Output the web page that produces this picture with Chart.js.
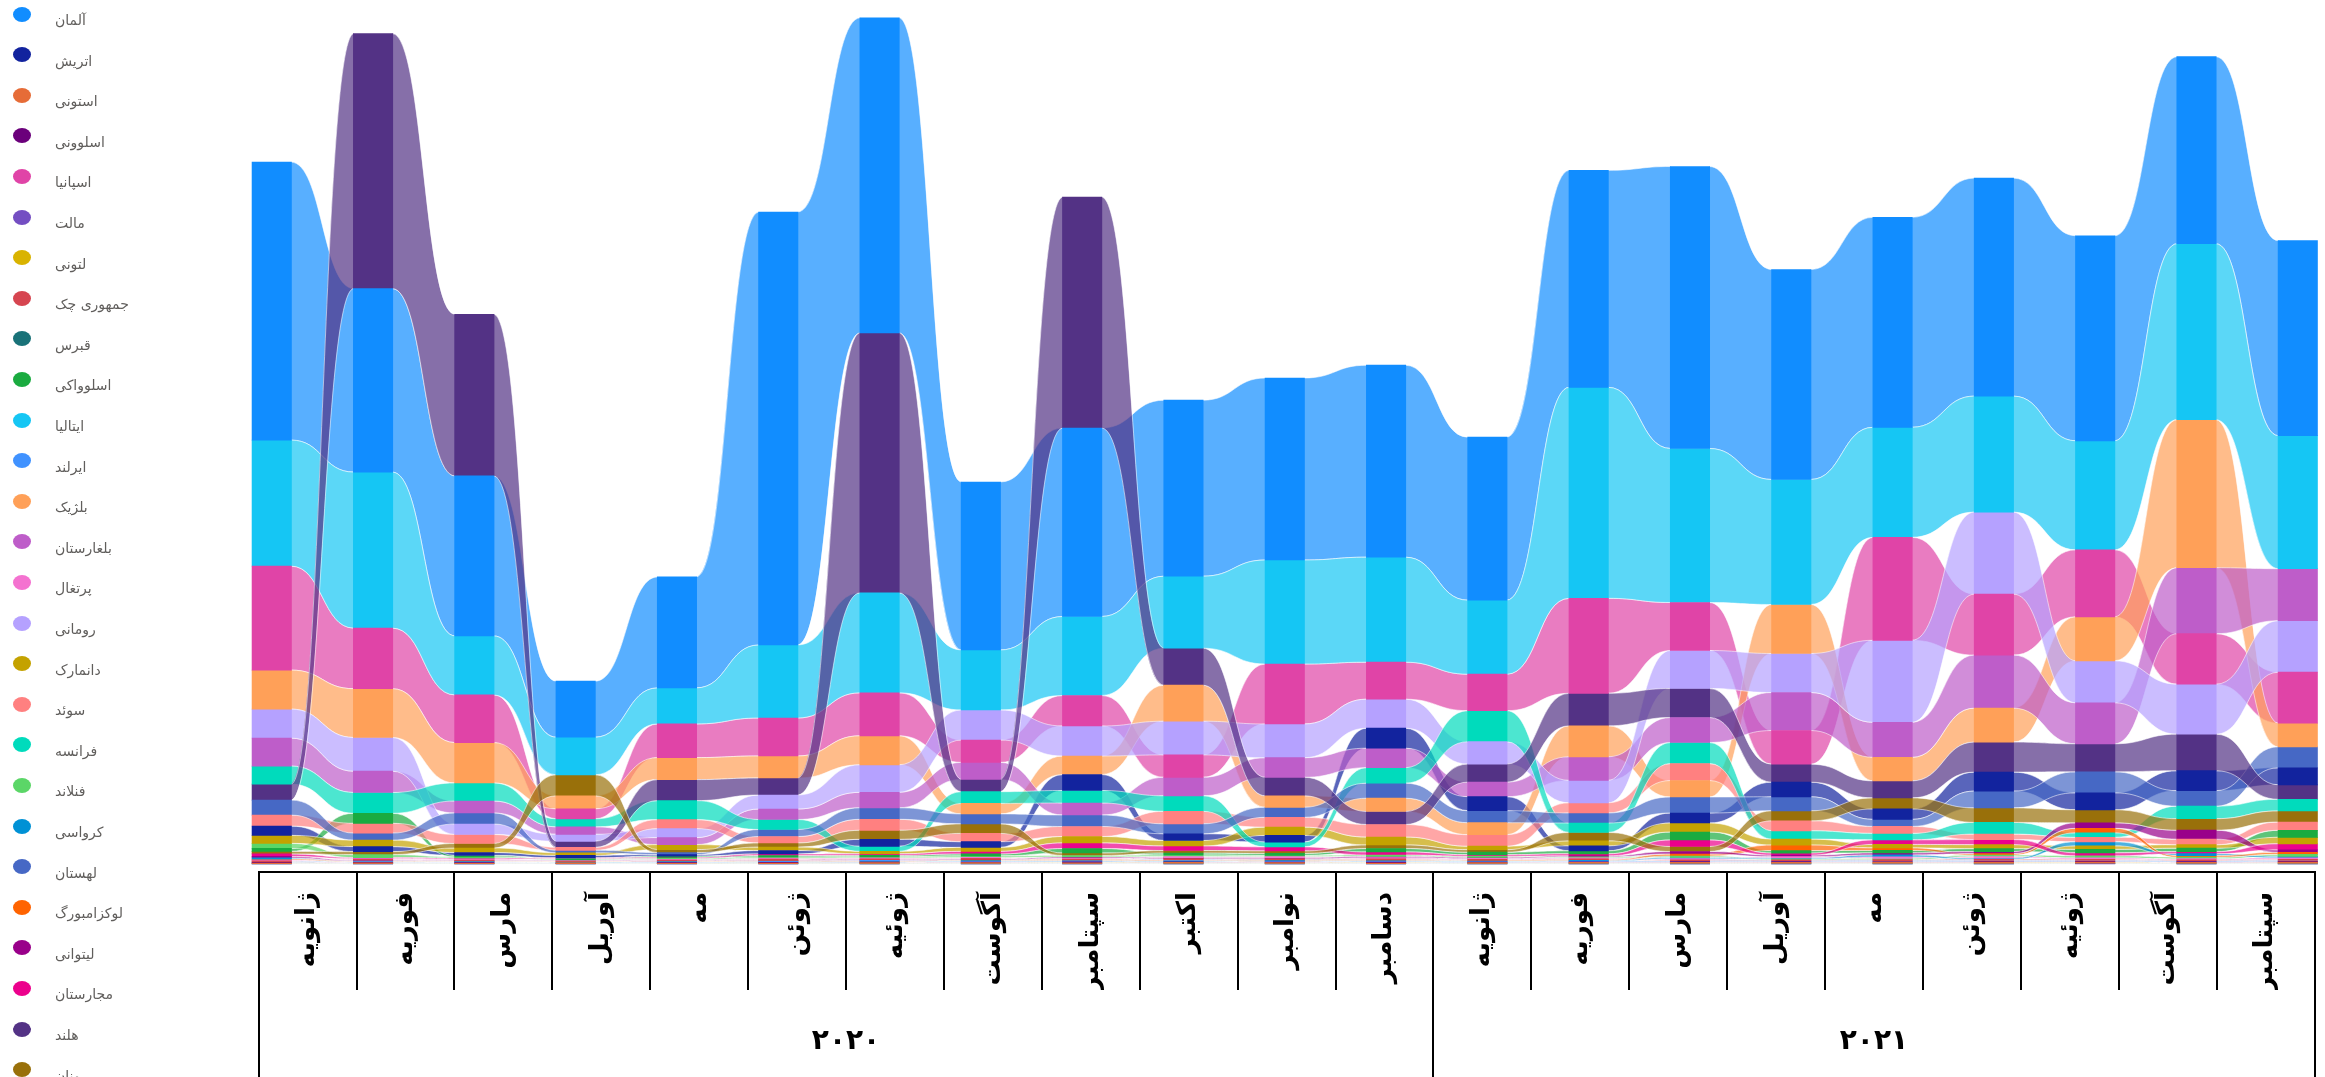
<!DOCTYPE html>
<html lang="fa">
<head>
  <meta charset="UTF-8" />
  <title>Ribbon chart - EU</title>
  <script src="https://cdn.jsdelivr.net/npm/chart.js@4.4.1/dist/chart.umd.min.js"></script>
  <style>
    body {
      margin: 0;
      background: #fff;
      overflow: hidden;
    }
    #wrap {
      position: relative;
      width: 2325px;
      height: 1077px;
    }
    #chart {
      position: absolute;
      left: 0;
      top: 0;
    }
    #legend {
      position: absolute;
      left: 0;
      top: 0;
      font-family: 'DejaVu Sans', sans-serif;
      font-size: 14px;
      color: #605E5C;
    }
    .item { position: absolute; left: 0; }
    .dot {
      position: absolute;
      left: 13px;
      top: -7.5px;
      width: 18px;
      height: 15px;
      border-radius: 50%;
    }
    .name {
      position: absolute;
      left: 55px;
      top: -2px;
      white-space: nowrap;
      direction: rtl;
    }
  </style>
</head>
<body>
  <div id="wrap">
    <canvas id="chart" width="2325" height="1077"></canvas>
    <div id="legend"></div>
  </div>

  <script>
    // categories
    const months = ['ژانویه', 'فوریه', 'مارس', 'آوریل', 'مه', 'ژوئن', 'ژوئیه', 'آگوست', 'سپتامبر', 'اکتبر', 'نوامبر', 'دسامبر',
                    'ژانویه', 'فوریه', 'مارس', 'آوریل', 'مه', 'ژوئن', 'ژوئیه', 'آگوست', 'سپتامبر'];
    const years = ['۲۰۲۰', '۲۰۲۱'];
    const monthsPerYear = [12, 9];

    const countries = ['آلمان', 'اتریش', 'استونی', 'اسلوونی', 'اسپانیا', 'مالت', 'لتونی', 'جمهوری چک', 'قبرس',
                       'اسلوواکی', 'ایتالیا', 'ایرلند', 'بلژیک', 'بلغارستان', 'پرتغال', 'رومانی', 'دانمارک', 'سوئد',
                       'فرانسه', 'فنلاند', 'کرواسی', 'لهستان', 'لوکزامبورگ', 'لیتوانی', 'مجارستان', 'هلند', 'یونان'];
    const colors = ['#118DFF', '#12239E', '#E66C37', '#6B007B', '#E044A7', '#744EC2', '#D9B300', '#D64550', '#197278',
                    '#1AAB40', '#15C6F4', '#4092FF', '#FFA058', '#BE5DC9', '#F472D0', '#B5A1FF', '#C4A200', '#FF8080',
                    '#00DBBC', '#5BD667', '#0091D5', '#4668C5', '#FF6300', '#99008A', '#EC008C', '#533285', '#99700A'];

    // series values, one per month
    const DE = [278, 183.5, 160, 56, 111, 433, 315, 168, 188.5, 176, 182, 192, 163, 217, 282, 210, 210, 218, 205, 187, 195];
    const AT = [9.3, 5, 3, 2.5, 1.5, 3.5, 7, 5.7, 16, 6.7, 6.7, 20, 14, 5, 10, 14.6, 10.5, 19, 17, 20, 17];
    const EE = [0.4, 0.4, 0.3, 0.3, 0.3, 0.4, 0.5, 0.5, 0.5, 0.6, 0.5, 0.5, 0.5, 0.6, 0.6, 0.7, 0.7, 0.7, 0.7, 0.6, 0.7];
    const SI = [0.5, 0.5, 0.4, 0.3, 0.4, 0.5, 0.5, 0.6, 0.6, 0.6, 0.6, 0.6, 0.5, 0.6, 0.7, 0.7, 0.7, 0.8, 0.7, 0.7, 0.8];
    const ES = [104, 60.6, 47.7, 10, 33.7, 38, 43, 22.4, 30.5, 22.4, 60, 37, 36.5, 95, 48, 33.7, 103, 61, 67, 50.5, 51];
    const MT = [0.2, 0.2, 0.2, 0.1, 0.1, 0.2, 0.2, 0.2, 0.2, 0.2, 0.2, 0.2, 0.2, 0.2, 0.2, 0.2, 0.2, 0.2, 0.3, 0.2, 0.2];
    const LV = [0.4, 0.3, 0.3, 0.3, 0.3, 0.4, 0.4, 0.4, 0.5, 0.5, 0.4, 0.5, 0.4, 0.5, 0.5, 0.5, 0.6, 0.6, 0.6, 0.5, 0.6];
    const CZ = [0.8, 0.8, 0.6, 0.5, 0.6, 0.8, 0.8, 0.8, 0.8, 0.9, 1, 1, 0.8, 0.9, 1, 1, 1, 1.2, 1.2, 1, 1.2];
    const CY = [0.2, 0.2, 0.2, 0.2, 0.2, 0.2, 0.2, 0.3, 0.3, 0.3, 0.3, 0.2, 0.2, 0.3, 0.3, 0.3, 0.3, 0.3, 0.3, 0.3, 0.3];
    const SK = [3, 10, 1.5, 0.7, 1.2, 1.5, 1.5, 2, 4.5, 2, 2, 3.5, 2.5, 3, 8, 2.5, 2.5, 3, 3.5, 3.5, 7];
    const IT = [126, 156, 59, 37.6, 36, 73, 100, 60, 79, 72, 104, 105, 74, 211, 154, 125, 110, 116, 109, 176, 133];
    const IE = [0.6, 0.6, 0.5, 0.4, 0.5, 0.6, 0.7, 0.7, 0.7, 0.8, 0.7, 0.7, 0.6, 0.7, 0.8, 0.8, 0.9, 0.9, 0.9, 0.8, 0.9];
    const BE = [39, 48.8, 40.4, 13, 22, 22, 29, 10.5, 18.5, 36, 11.5, 13.3, 12, 31, 16.5, 49, 23.6, 34, 44, 148, 23.6];
    const BG = [28, 21.3, 12, 7.5, 7, 10.5, 15.5, 17, 12, 18.5, 19.6, 19.5, 14.6, 23.6, 25, 38, 35, 53, 41, 66, 52];
    const PT = [0.8, 0.8, 0.8, 0.6, 0.8, 1, 1, 1, 1, 1.2, 1.2, 1.2, 1, 1, 1.2, 1.2, 1.5, 1.5, 1.5, 1.2, 1.5];
    const RO = [29, 33.7, 10.5, 7, 9, 14, 27.5, 30, 30, 33.7, 33.7, 29, 22.4, 22.4, 38, 39, 82, 82, 42, 50, 51.5];
    const DK = [8, 6.5, 4.5, 2.5, 5, 3.5, 2.5, 4, 6.5, 5.5, 8.3, 8, 3.5, 5, 9, 6, 3.5, 4, 3.5, 3.5, 6.5];
    const SE = [11, 9.8, 9, 3, 9, 6.5, 11, 8.3, 10, 12.5, 9.8, 12.5, 11.5, 10.2, 17, 10, 7, 5.5, 4.5, 5.5, 8.3];
    const FR = [18, 20.8, 18, 8, 19, 10, 5, 11.7, 12.5, 15.5, 4.8, 15.5, 31, 9.5, 21, 8.3, 6.5, 11.7, 4.5, 12.5, 11.7];
    const FI = [5, 3, 1.2, 0.7, 1, 1.2, 1, 1.5, 1.5, 1.5, 1.2, 1.5, 1.2, 1, 1.5, 1, 1.2, 1.5, 2, 1.5, 2];
    const HR = [1.2, 0.5, 0.5, 0.4, 0.5, 0.5, 0.6, 0.7, 0.7, 0.7, 0.8, 0.7, 0.7, 0.7, 1.2, 1, 2, 1.2, 4, 2, 1.5];
    const PL = [15, 7, 11, 2.5, 2, 7, 11.5, 10, 11.5, 10, 10, 15, 12, 10, 16, 14, 7, 16.8, 21, 15.5, 21];
    const LU = [1, 0.5, 0.5, 0.5, 0.5, 0.6, 0.6, 0.7, 0.7, 0.7, 0.7, 0.7, 0.7, 0.7, 2, 5.5, 2.5, 1.5, 4.5, 1.5, 2];
    const LT = [1.5, 0.6, 0.5, 0.5, 0.5, 0.6, 0.7, 0.7, 1, 1, 1, 1.2, 1, 1, 2.5, 1.5, 2, 2, 5.5, 9, 2.5];
    const HU = [2.5, 1, 1, 0.7, 1, 1.5, 1.5, 2.5, 5.5, 4.5, 4, 3, 1.5, 2, 6.5, 2, 4.5, 5, 3, 2, 6];
    const NL = [16, 255, 161.6, 6, 21, 17, 260, 12.3, 231, 37, 18.5, 13, 18, 32.5, 29, 18, 17, 30, 28, 36.5, 14.5];
    const GR = [2.5, 3, 4.5, 21, 3, 4, 9, 9.5, 2.5, 2.5, 2.5, 3.5, 2.5, 8.3, 5, 10, 11, 14.5, 13, 11.5, 11];

    const series = [DE, AT, EE, SI, ES, MT, LV, CZ, CY, SK, IT, IE, BE, BG, PT, RO, DK, SE, FR, FI, HR, PL, LU, LT, HU, NL, GR];

    function withAlpha(hex, a) {
      const n = parseInt(hex.slice(1), 16);
      return `rgba(${(n >> 16) & 255}, ${(n >> 8) & 255}, ${n & 255}, ${a})`;
    }

    // ribbon chart: in every month the biggest value sits on top
    const stacks = series.map(() => []);
    months.forEach((m, j) => {
      const order = series.map((s, k) => k).sort((a, b) => series[a][j] - series[b][j]);
      let base = 0;
      order.forEach(k => {
        stacks[k][j] = { x: j, y: [base, base + series[k][j]] };
        base += series[k][j];
      });
    });

    const datasets = countries.map((name, k) => ({
      label: name,
      data: stacks[k],
      backgroundColor: colors[k],
      ribbonColor: withAlpha(colors[k], 0.7),
      borderWidth: 0,
      clip: false
    }));

    // year row: borders between years and label in the middle
    const yearBounds = [-0.5];
    const yearMids = [];
    monthsPerYear.forEach(n => {
      const start = yearBounds[yearBounds.length - 1];
      yearMids.push(start + n / 2);
      yearBounds.push(start + n);
    });

    const ribbons = {
      id: 'ribbons',
      beforeDatasetsDraw(chart) {
        const ctx = chart.ctx;
        ctx.save();
        ctx.strokeStyle = 'rgba(255, 255, 255, 0.55)';
        ctx.lineWidth = 1;
        chart.data.datasets.forEach((ds, k) => {
          const pts = chart.getDatasetMeta(k).data;
          ctx.fillStyle = ds.ribbonColor;
          for (let j = 0; j < pts.length - 1; j++) {
            const a = pts[j], b = pts[j + 1];
            const x1 = a.x + a.width / 2 - 0.5;
            const x2 = b.x - b.width / 2 + 0.5;
            const xm = (x1 + x2) / 2;
            const at = Math.min(a.y, a.base), ab = Math.max(a.y, a.base);
            const bt = Math.min(b.y, b.base), bb = Math.max(b.y, b.base);
            ctx.beginPath();
            ctx.moveTo(x1, at);
            ctx.bezierCurveTo(xm, at, xm, bt, x2, bt);
            ctx.lineTo(x2, bb);
            ctx.bezierCurveTo(xm, bb, xm, ab, x1, ab);
            ctx.closePath();
            ctx.fill();
            // thin light edges like the original ribbons
            ctx.beginPath();
            ctx.moveTo(x1, at);
            ctx.bezierCurveTo(xm, at, xm, bt, x2, bt);
            ctx.moveTo(x2, bb);
            ctx.bezierCurveTo(xm, bb, xm, ab, x1, ab);
            ctx.stroke();
          }
        });
        ctx.restore();
      }
    };

    const labelFont = { family: "'DejaVu Sans', sans-serif", weight: 'bold' };

    new Chart(document.getElementById('chart'), {
      type: 'bar',
      data: { datasets },
      options: {
        responsive: false,
        animation: false,
        layout: { padding: { left: 258.6, right: 10.5, top: 0, bottom: 0 } },
        plugins: {
          legend: { display: false },
          tooltip: { enabled: false }
        },
        datasets: {
          bar: { grouped: false, barThickness: 39.4 }
        },
        scales: {
          x: {
            type: 'linear',
            position: 'bottom',
            weight: -1,
            offset: false,
            min: -0.1298,
            max: 20.165,
            grid: { display: false, offset: false },
            border: { display: false },
            ticks: { display: false },
            afterFit: s => { s.height = 0; }
          },
          y: { display: false, min: -8, max: 864 },
          xm: {
            type: 'category',
            labels: months,
            position: 'bottom',
            weight: 0,
            offset: true,
            grid: { offset: true, drawOnChartArea: false, tickLength: 118, color: '#000', lineWidth: 2 },
            border: { display: true, color: '#000', width: 2 },
            ticks: {
              autoSkip: false,
              minRotation: 90,
              maxRotation: 90,
              padding: -98,
              color: '#000',
              font: { ...labelFont, size: 26 }
            },
            afterFit: s => { s.height = 118; }
          },
          xy: {
            type: 'linear',
            position: 'bottom',
            weight: 1,
            offset: false,
            min: -0.5,
            max: 20.5,
            afterBuildTicks: s => {
              s.ticks = yearBounds.concat(yearMids).sort((a, b) => a - b).map(v => ({ value: v }));
            },
            grid: {
              offset: false,
              drawOnChartArea: false,
              tickLength: 100,
              lineWidth: 2,
              color: c => (c.tick && yearMids.includes(c.tick.value)) ? 'rgba(0,0,0,0)' : '#000'
            },
            border: { display: false },
            ticks: {
              autoSkip: false,
              maxRotation: 0,
              padding: -65,
              color: '#000',
              font: { ...labelFont, size: 28 },
              callback: v => {
                const i = yearMids.indexOf(v);
                return i >= 0 ? years[i] : '';
              }
            },
            afterFit: s => { s.height = 87; }
          }
        }
      },
      plugins: [ribbons]
    });

    // legend on the left
    const legend = document.getElementById('legend');
    countries.forEach((name, i) => {
      const row = document.createElement('div');
      row.className = 'item';
      row.style.top = (14 + i * 40.6) + 'px';
      row.innerHTML = '<span class="dot" style="background:' + colors[i] + '"></span><span class="name">' + name + '</span>';
      legend.appendChild(row);
    });
  </script>
</body>
</html>
